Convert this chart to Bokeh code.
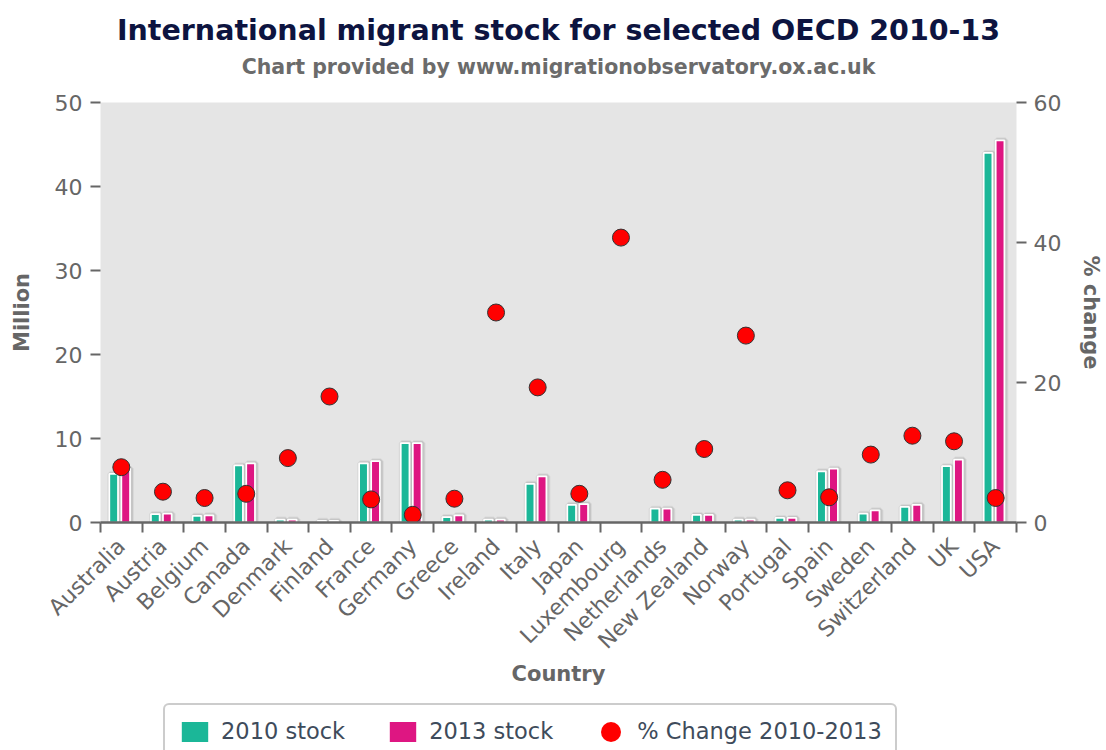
import math
from bokeh.plotting import figure
from bokeh.layouts import column
from bokeh.models import (ColumnDataSource, Range1d, LinearAxis,
                          FixedTicker, Title, Legend, LegendItem)
from bokeh.transform import dodge
from bokeh.embed import file_html
from bokeh.resources import INLINE

# ---------------- data ----------------
countries = ["Australia", "Austria", "Belgium", "Canada", "Denmark", "Finland",
             "France", "Germany", "Greece", "Ireland", "Italy", "Japan",
             "Luxembourg", "Netherlands", "New Zealand", "Norway", "Portugal",
             "Spain", "Sweden", "Switzerland", "UK", "USA"]
stock_2010 = [5.8, 1.0, 0.8, 6.8, 0.35, 0.2, 7.05, 9.45, 0.65, 0.35, 4.6, 2.1,
              float("nan"), 1.65, 0.9, 0.35, 0.55, 6.1, 1.05, 1.85, 6.7, 44.0]
stock_2013 = [6.4, 1.05, 0.85, 7.05, 0.35, 0.2, 7.3, 9.45, 0.85, 0.35, 5.5, 2.2,
              float("nan"), 1.65, 0.9, 0.35, 0.55, 6.4, 1.45, 2.1, 7.5, 45.5]
pct_change = [7.9, 4.4, 3.5, 4.1, 9.2, 18.0, 3.3, 1.1, 3.4, 30.0, 19.3, 4.1,
              40.7, 6.1, 10.5, 26.7, 4.6, 3.6, 9.7, 12.4, 11.6, 3.5]
left_ticks = [0, 10, 20, 30, 40, 50]
right_ticks = [0, 20, 40, 60]

title_text = "International migrant stock for selected OECD 2010-13"
subtitle_text = "Chart provided by www.migrationobservatory.ox.ac.uk"

# ---------------- styles ----------------
GREEN = "#1bb798"
MAGENTA = "#de1682"
RED = "#ff0000"
GRAY = "#666666"
FONT = "DejaVu Sans"

n = len(countries)
# category slot centres (category i occupies [i, i+1] on the x scale)
slot = [i + 0.5 for i in range(n)]
src = ColumnDataSource(dict(country=countries, xpos=slot, s2010=stock_2010,
                            s2013=stock_2013, pct=pct_change))

p = figure(width=1106, height=700, title=None,
           x_range=Range1d(0, n), y_range=Range1d(0, 50),
           output_backend="svg", toolbar_location=None,
           x_axis_location=None, y_axis_location=None,
           min_border_left=100, min_border_right=86,
           min_border_top=102, min_border_bottom=178)
p.extra_y_ranges = {"pct": Range1d(0, 60)}
p.background_fill_color = "#e5e5e5"
p.border_fill_color = "white"
p.outline_line_color = None
p.grid.visible = False

CAT_PX = 920.0 / n
BAR_W = 0.209
offsets = {"s2010": -0.184, "s2013": 0.105}
colors = {"s2010": GREEN, "s2013": MAGENTA}

# shadows
for key, off in offsets.items():
    for lw, a in [(6, 0.05), (4, 0.09)]:
        p.vbar(x=dodge("xpos", off + 1.0 / CAT_PX), width=BAR_W, top=key,
               bottom=0, source=src, fill_color=None, line_color="black",
               line_alpha=a, line_width=lw)

for key, off in offsets.items():
    p.vbar(x=dodge("xpos", off), width=BAR_W, top=key, bottom=0,
           source=src, fill_color=colors[key], line_color="white", line_width=1.75)

p.ellipse(x="xpos", y="pct", y_range_name="pct", width=17, height=17,
          width_units="screen", height_units="screen", source=src,
          fill_color=RED, line_color="#333333", line_width=1)

# ---------------- axes ----------------
xaxis = LinearAxis(ticker=FixedTicker(ticks=slot, minor_ticks=list(range(n + 1))),
                   major_label_overrides={c: name for c, name in zip(slot, countries)},
                   major_label_orientation=math.pi / 4,
                   major_tick_in=0, major_tick_out=0,
                   minor_tick_in=0, minor_tick_out=10,
                   minor_tick_line_color=GRAY, minor_tick_line_width=2,
                   axis_line_color=GRAY, axis_line_width=2.5,
                   major_label_standoff=10,
                   major_label_text_font=FONT, major_label_text_font_size="22px",
                   major_label_text_color=GRAY,
                   axis_label="Country", axis_label_standoff=-3,
                   axis_label_text_font=FONT, axis_label_text_font_size="21px",
                   axis_label_text_font_style="bold", axis_label_text_color=GRAY)
p.add_layout(xaxis, "below")

yaxis = LinearAxis(ticker=FixedTicker(ticks=left_ticks),
                   axis_line_color=None, major_tick_in=0, major_tick_out=10,
                   major_tick_line_color=GRAY, major_tick_line_width=2,
                   minor_tick_line_color=None, major_label_standoff=8,
                   major_label_text_font=FONT, major_label_text_font_size="22px",
                   major_label_text_color=GRAY,
                   axis_label="Million", axis_label_standoff=18,
                   axis_label_text_font=FONT, axis_label_text_font_size="21px",
                   axis_label_text_font_style="bold", axis_label_text_color=GRAY)
p.add_layout(yaxis, "left")

yaxis2 = LinearAxis(y_range_name="pct", ticker=FixedTicker(ticks=right_ticks),
                    axis_line_color=None, major_tick_in=0, major_tick_out=10,
                    major_tick_line_color=GRAY, major_tick_line_width=2,
                    minor_tick_line_color=None, major_label_standoff=7,
                    major_label_text_font=FONT, major_label_text_font_size="22px",
                    major_label_text_color=GRAY,
                    axis_label="% change", axis_label_standoff=15,
                    axis_label_text_font=FONT, axis_label_text_font_size="21px",
                    axis_label_text_font_style="bold", axis_label_text_color=GRAY)
p.add_layout(yaxis2, "right")

# ---------------- titles ----------------
sub = Title(text=subtitle_text, align="center", text_font=FONT,
            text_font_size="20.5px", text_font_style="bold", text_color="#6b6b6b",
            standoff=48)
main = Title(text=title_text, align="center", text_font=FONT,
             text_font_size="28.5px", text_font_style="bold", text_color="#0d1440",
             standoff=-36)
p.add_layout(sub, "above")
p.add_layout(main, "above")

# ---------------- legend strip (same series, legend only) ----------------
lf = figure(width=1106, height=50, title=None,
            x_range=Range1d(0, n), y_range=Range1d(1000, 1001),
            output_backend="svg", toolbar_location=None,
            x_axis_location=None, y_axis_location=None, min_border=0)
lf.outline_line_color = None
lf.grid.visible = False
lf.border_fill_color = "white"
lf.background_fill_color = "white"
l10 = lf.vbar(x="xpos", width=BAR_W, top="s2010", bottom=0, source=src,
              fill_color=GREEN, line_color=None)
l13 = lf.vbar(x="xpos", width=BAR_W, top="s2013", bottom=0, source=src,
              fill_color=MAGENTA, line_color=None)
lpc = lf.ellipse(x="xpos", y="pct", width=17, height=17,
                 width_units="screen", height_units="screen", source=src,
                 fill_color=RED, line_color=None)

legend = Legend(items=[LegendItem(label="2010 stock", renderers=[l10]),
                       LegendItem(label="2013 stock", renderers=[l13]),
                       LegendItem(label="% Change 2010-2013", renderers=[lpc])],
                location=(63, -9), orientation="horizontal",
                glyph_width=33, glyph_height=25, label_standoff=10, spacing=41,
                padding=13, margin=0,
                label_text_font=FONT, label_text_font_size="22.5px",
                label_text_color="#3e4b5b",
                border_line_color="#999999", border_line_width=2,
                background_fill_color="white", background_fill_alpha=1.0)
try:
    legend.border_radius = 6
except Exception:
    pass
lf.add_layout(legend)

layout = column(p, lf, spacing=0)
open("out.html", "w").write(file_html(layout, INLINE))
